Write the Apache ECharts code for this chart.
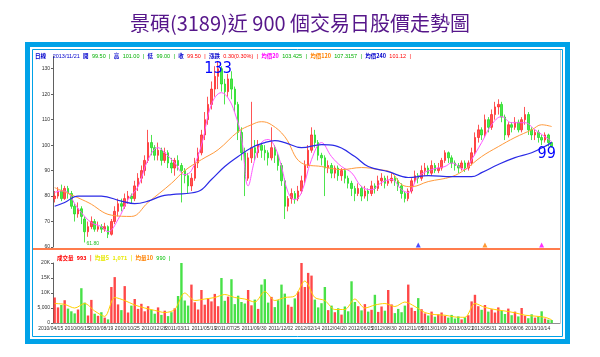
<!DOCTYPE html>
<html><head><meta charset="utf-8">
<script src="https://cdn.jsdelivr.net/npm/echarts@6/dist/echarts.min.js"></script>
<style>html,body{margin:0;padding:0;background:#fff}#c{width:600px;height:357px}</style>
</head><body><div id="c"></div>
<script>
// [open, close, low, high] — one candle per ~6 trading days
const candles = [
[79,80,77.5,82],[80,82,79,83.5],[82,79,78,84.5],[79,83,78.5,84],[83,81,79,84],[81,76,75,82],[76,73,70,77],[73,75,71.5,77.5],[75,72,69,76],[71,66,61.8,72],
[66,68,64,70],[68,70,67,72],[70,67,66,71],[67,68,66,70],[68,67,65.5,69],[67,68,66,69.5],[68,65,63.5,68.5],[65,70,64.5,71],[70,74,69,76],[74,77,72,79],
[77,76,74,79],[76,79,75,81],[79,80,77,82],[80,79,77,81],[79,84,78,86],[84,87,82,89],[87,90,85,92],[90,94,88,96],[94,101,93,106],[101,99,96,104],
[99,96,94,100],[96,98,94,101],[98,94,92,99],[94,97,93,99],[97,93,91,98],[93,91,89,95],[91,94,88,95],[94,92,90,96],[92,90,77.5,93],[90,88,85,91],
[88,84,81,89],[84,87,82,89],[87,93,86,95],[93,97,91,99],[97,104,96,106],[104,110,102,113],[110,116,108,119],[116,122,114,125],[122,127,119,131],[127,130,122,133],
[130,124,121,131],[124,121,116,126],[121,126,119,128],[126,122,118,129],[122,116,113,123],[116,105,102,117],[105,97,94,107],[97,87,80,99],[87,95,86,97],[95,99,93,117],
[99,97,94,102],[97,100,95,102],[100,98,95,101],[98,97,94,100],[97,95,92,98],[95,99,94,107],[99,96,93,100],[96,92,90,97],[92,86,84,93],[86,76,71,87],
[76,79,74,80],[79,81,77,83],[81,79,77,82],[79,82,78,84],[82,86,81,88],[86,92,85,94],[92,98,91,100],[98,104,97,107],[104,101,99,106],[101,96,94,102],
[96,95,92,97],[95,91,80,96],[91,92,89,94],[92,89,87,93],[89,91,87,92],[91,88,86,92],[88,90,86,91],[90,87,85,91],[87,85,83,88],[85,83,80,86],
[83,81,78,84],[81,83,80,85],[83,80,78,84],[80,82,79,84],[82,81,78,83],[81,84,80,86],[84,83,81,85],[83,86,82,88],[86,87,84,89],[87,85,83,88],
[85,86,84,88],[86,87,85,89],[87,86,84,88],[86,84,82,87],[84,81,79,85],[81,79,77.5,82],[79,82,78,83],[82,86,81,87],[86,88,85,90],[88,87,85,89],
[87,90,86,92],[90,91,88,93],[91,89,88,92],[89,92,88,94],[92,90,89,93],[90,91,89,93],[91,94,90,95],[94,97,93,98],[97,95,93,97.5],[95,93,91,96],
[93,92,90,94],[92,91,89,93],[91,93,90,94],[93,91,89.5,94],[91,93,90,94],[93,97,92,99],[97,103,96,105],[103,106,101,108],[106,104,102,107],[104,110,103,112],
[110,107,105,111],[107,112,106,114],[112,115,110,117],[115,116,112,118],[116,111,109,117],[111,104,102,112],[104,108,103,109],[108,107,105,109],[107,109,106,111],[109,106,105,110],
[106,110,105,111],[110,112,108,115],[112,106,104,113],[106,104,102,107],[104,105,102,106],[105,103,101,106],[103,102,100,104],[102,104,101,105],[104,101,99.5,104.5],[101,99.5,99,101]
];
const volumes = [
8500,5200,6000,7600,4800,3900,3200,4500,11600,6800,
2500,7700,3100,2400,3600,1800,1200,12000,15300,6200,
4300,12300,3500,5800,8000,4700,6400,3900,5600,4400,
3100,5200,2700,4100,2300,3600,4900,9000,20300,7500,
5800,12800,6900,4500,11000,6100,8300,7200,9700,5600,
15000,7400,8800,14600,6300,9100,7000,6500,11000,5900,
7800,4700,12800,14600,6800,8700,5300,7600,12800,9800,
6100,5400,8200,10500,21000,12000,16700,15800,7800,5200,
6600,12000,4300,5800,3600,4900,2800,5500,3900,13900,
7000,5600,4200,6300,3800,4400,9400,3700,5500,4100,
11000,6200,3300,4700,3600,5800,12800,5100,4000,8300,
4600,3200,2500,3800,2100,2900,3500,2400,1800,2700,
1500,2200,1200,1900,2600,7200,9400,5600,4400,6000,
3800,4600,3500,5200,4100,3000,4800,2600,3800,2200,
5000,2400,1600,2900,1800,2200,3900,1500,1100,993
];
const ma20 = [[0,81.4],[2,82],[4,81.4],[6,77],[8,73.5],[11,69.6],[14,68],[16,66],[19,70.8],[22,78.6],[25,83.7],[28,94.3],[31,99],[33,97],[36,93],[39,88.4],[41,90],[44,100],[47,116],[50,120.6],[52,118.5],[54,112.7],[56,103],[58,84],[60,94.3],[62,101],[64,102.2],[66,99.4],[68,91.6],[70,81.4],[72,78.6],[74,81.4],[77,94.3],[80,101],[83,95.5],[86,91.6],[89,89.2],[92,83.7],[95,82.5],[98,85.3],[101,86.5],[104,82.5],[106,81.4],[109,87.6],[113,90.4],[117,91.6],[119,93],[123,90.4],[125,94.3],[128,101],[131,108],[134,111.2],[137,108.8],[141,108.8],[144,106],[147,103.3],[149,101.4]];
const ma120 = [[0,83.3],[10,77.5],[17,72.5],[23,72],[28,77.5],[35,85],[39,90],[44,94.3],[49,98.2],[55,105.3],[59,108],[62,109.2],[65,108],[69,103.3],[74,93],[80,91.6],[86,90.4],[92,91.2],[97,90.4],[101,89.2],[104,84.5],[107,83.7],[112,85.7],[119,87.6],[123,90.4],[128,95.5],[133,99.4],[138,103],[143,106],[146,108],[149,107.3]];
const ma240 = [[0,76],[3,77.5],[7,80],[14,80],[20,78],[24,77],[28,78],[32,80],[35,80.6],[43,81.8],[47,86.5],[51,91.6],[55,95.5],[59,99],[63,101],[66,101.8],[69,101],[74,99],[80,100.2],[84,99.8],[90,95.5],[94,91.6],[100,89.6],[106,87.3],[112,88],[119,87.6],[125,87.6],[128,89.2],[133,92.4],[138,95.1],[143,97],[148,100.2],[149,101.1]];
const volMa5 = [[0,6500],[3,6200],[6,5000],[9,6500],[12,4000],[15,2200],[18,8500],[21,7500],[24,6000],[27,5000],[30,4200],[33,3500],[36,4500],[39,10000],[42,7500],[45,8000],[48,8500],[51,9500],[54,8500],[57,8000],[60,7000],[63,10500],[66,7500],[69,8500],[72,9000],[75,14000],[78,8500],[81,7500],[84,4500],[87,4500],[90,8000],[93,5000],[96,6000],[99,6500],[102,5500],[105,7000],[108,5500],[111,3500],[114,2800],[117,2600],[120,2000],[123,1900],[126,6500],[129,5200],[132,4500],[135,4000],[138,3400],[141,2600],[144,2300],[147,1900],[149,1071]];
const tickIdx = [0,8,15,23,31,38,46,53,61,69,77,85,93,100,108,115,123,130,138,146];
const tickLabels = ['2010/04/15','2010/06/15','2010/08/19','2010/10/25','2010/12/28','2011/03/11','2011/05/19','2011/07/25','2011/09/30','2011/12/02','2012/02/14','2012/04/20','2012/06/25','2012/08/30','2012/11/05','2013/01/09','2013/03/21','2013/05/31','2013/08/06','2013/10/14'];
const markerIdx = [109,129,146];
const markerVal = [60.8,60.8,60.8];
const slotCount = 152;

const slots = Array.from({length: slotCount}, (_, i) => String(i));
const up = (i) => candles[i] && candles[i][1] >= candles[i][0];
const F = 'Liberation Sans';
const NARROW = '"DejaVu Sans Condensed", "Liberation Sans", sans-serif';

const chart = echarts.init(document.getElementById('c'), null, {renderer: 'canvas'});
chart.setOption({
  animation: false,
  backgroundColor: '#fff',
  title: {
    text: '景碩(3189)近 900 個交易日股價走勢圖', left: 'center', top: 8,
    textStyle: {fontFamily: 'Noto Sans CJK TC', fontSize: 20, fontWeight: 'normal', color: '#56168a'}
  },
  graphic: [
    {type: 'rect', shape: {x: 27.5, y: 44.5, width: 540, height: 297}, style: {fill: 'none', stroke: '#00a2e8', lineWidth: 5}, z: 10},
    {type: 'rect', shape: {x: 32.5, y: 49.5, width: 530, height: 287}, style: {fill: 'none', stroke: '#00a2e8', lineWidth: 1}, z: 10},
    {type: 'line', shape: {x1: 33, y1: 249, x2: 561, y2: 249}, style: {stroke: '#ff5010', lineWidth: 1.5}, z: 9},
    {type: 'line', shape: {x1: 560.5, y1: 50, x2: 560.5, y2: 323}, style: {stroke: '#c8c8c8', lineWidth: 1}, z: 9},
    {type: 'text', left: 35, top: 50, z: 11, style: {
      text: '{b|日線}  {d|2013/11/21} {b|開} {g|99.50} {g||} {b|高} {g|101.00} {g||} {b|低} {g|99.00} {g||} {b|收} {r|99.50} {r||} {b|漲跌} {r|0.30(0.30%)} {r||} {m|均價20} {g|103.425} {g||} {o|均價120} {g|107.3157} {g||} {b|均價240} {r|101.12} {r||}',
      rich: {
        b: {fill: '#0000cc', fontSize: 5.5, fontFamily: 'Noto Sans CJK TC', fontWeight: 'bold'},
        d: {fill: '#0000cc', fontSize: 5.5, fontFamily: F},
        g: {fill: '#00b000', fontSize: 5.5, fontFamily: F},
        r: {fill: '#ff0000', fontSize: 5.5, fontFamily: F},
        m: {fill: '#ff00ff', fontSize: 5.5, fontFamily: 'Noto Sans CJK TC', fontWeight: 'bold'},
        o: {fill: '#ff8000', fontSize: 5.5, fontFamily: 'Noto Sans CJK TC', fontWeight: 'bold'}
      }
    }},
    {type: 'text', left: 57, top: 252, z: 11, style: {
      text: '{r|成交量} {r|993} {r||} {y|均量5} {y|1,071} {y||} {o|均量10} {g|990} {g||}',
      rich: {
        r: {fill: '#ff0000', fontSize: 5.5, fontFamily: 'Noto Sans CJK TC', fontWeight: 'bold'},
        y: {fill: '#e8e800', fontSize: 5.5, fontFamily: 'Noto Sans CJK TC', fontWeight: 'bold'},
        o: {fill: '#ff8000', fontSize: 5.5, fontFamily: 'Noto Sans CJK TC', fontWeight: 'bold'},
        g: {fill: '#00c000', fontSize: 5.5, fontFamily: F}
      }
    }}
  ],
  grid: [
    {left: 53, top: 56, width: 507, height: 191},
    {left: 53, top: 263, width: 507, height: 60}
  ],
  xAxis: [
    {type: 'category', gridIndex: 0, data: slots, boundaryGap: true, axisLine: {show: false}, axisTick: {show: false}, axisLabel: {show: false}, splitLine: {show: false}},
    {type: 'category', gridIndex: 1, data: slots, boundaryGap: true,
      axisLine: {lineStyle: {color: '#909090', width: 1}},
      axisTick: {alignWithLabel: true, length: 2, lineStyle: {color: '#606060'}, interval: (i) => tickIdx.includes(i)},
      axisLabel: {interval: (i) => tickIdx.includes(i), formatter: (v, i) => tickLabels[tickIdx.indexOf(Number(v))] || '', fontSize: 5, fontFamily: F, color: '#303030', margin: 3, padding: [0, 8, 0, 0]},
      splitLine: {show: false}}
  ],
  yAxis: [
    {type: 'value', gridIndex: 0, min: 60, max: 135, interval: 10, axisLine: {show: true, lineStyle: {color: '#606060'}}, axisTick: {show: true, length: 2},
      axisLabel: {fontSize: 5, fontFamily: F, color: '#303030', margin: 3, showMaxLabel: false}, splitLine: {show: false}},
    {type: 'value', gridIndex: 1, min: 0, max: 20000, interval: 5000, axisLine: {show: true, lineStyle: {color: '#606060'}}, axisTick: {show: true, length: 2},
      axisLabel: {fontSize: 5, fontFamily: F, color: '#303030', margin: 3, formatter: (v) => v === 0 ? '0' : (v === 5000 ? '5,000' : (v / 1000) + 'K')}, splitLine: {show: false}}
  ],
  series: [
    {type: 'candlestick', xAxisIndex: 0, yAxisIndex: 0, data: candles, barWidth: 2,
      itemStyle: {color: '#ff2a2a', color0: '#22dd22', borderColor: '#ff2a2a', borderColor0: '#22dd22', borderWidth: 1, opacity: 0.8},
      markPoint: {symbol: 'circle', symbolSize: 0, silent: true, data: [
        {coord: ['49', 133], label: {show: true, formatter: '133', offset: [0, 8], color: '#0000ff', fontSize: 16, fontFamily: NARROW, fontWeight: 'normal'}},
        {coord: ['149', 99.5], label: {show: true, formatter: '99', offset: [-5, 7], color: '#0000ff', fontSize: 16, fontFamily: NARROW, fontWeight: 'normal'}},
        {coord: ['9', 61.8], label: {show: true, formatter: '61.80', offset: [8, 1], color: '#20c020', fontSize: 5, fontFamily: F}}
      ]}
    },
    {type: 'line', xAxisIndex: 0, yAxisIndex: 0, data: ma20, smooth: 0.4, symbol: 'none', lineStyle: {color: '#ff55ff', width: 1}, z: 3},
    {type: 'line', xAxisIndex: 0, yAxisIndex: 0, data: ma120, smooth: 0.4, symbol: 'none', lineStyle: {color: '#ff9a3c', width: 1}, z: 3},
    {type: 'line', xAxisIndex: 0, yAxisIndex: 0, data: ma240, smooth: 0.4, symbol: 'none', lineStyle: {color: '#2a2ae6', width: 1.2}, z: 3},
    {type: 'scatter', xAxisIndex: 0, yAxisIndex: 0, data: markerIdx.map((x, k) => [x, markerVal[k]]), symbol: 'triangle', symbolSize: 5,
      itemStyle: {color: (p) => ['#2020ff', '#ff8000', '#ff00ff'][p.dataIndex]}, z: 5},
    {type: 'bar', xAxisIndex: 1, yAxisIndex: 1, data: volumes, barWidth: 2.4,
      itemStyle: {color: (p) => up(p.dataIndex) ? 'rgba(255,40,40,0.85)' : 'rgba(40,220,40,0.85)'}},
    {type: 'line', xAxisIndex: 1, yAxisIndex: 1, data: volMa5, smooth: 0.3, symbol: 'none', lineStyle: {color: '#ffd000', width: 1}, z: 4}
  ]
});
</script></body></html>
